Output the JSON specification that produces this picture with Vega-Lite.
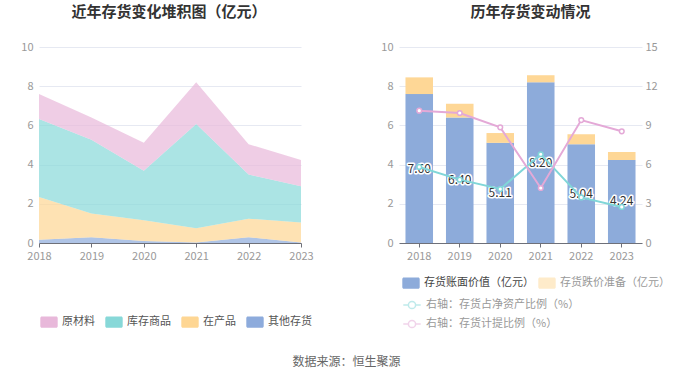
{
  "$schema": "https://vega.github.io/schema/vega-lite/v6.json",
  "background": "white",
  "padding": {"left": 5, "top": 5, "right": 5, "bottom": 5},
  "bounds": "flush",
  "spacing": 98,
  "config": {
    "font": "Noto Sans CJK SC",
    "view": {"stroke": null},
    "axis": {
      "labelColor": "#999999",
      "labelFontSize": 11,
      "gridColor": "#E6E9F2",
      "domainColor": "#6E7079",
      "tickColor": "#6E7079",
      "labelOverlap": false,
      "title": null
    },
    "legend": {"padding": 0, "labelFont": "Noto Sans CJK SC"}
  },
  "title": {
    "text": "数据来源：恒生聚源",
    "orient": "bottom",
    "anchor": "middle",
    "fontSize": 12,
    "fontWeight": "normal",
    "color": "#666666",
    "offset": 26,
    "dx": 9
  },
  "resolve": {
    "scale": {"color": "independent", "y": "independent", "stroke": "independent"},
    "legend": {"color": "independent", "stroke": "independent"}
  },
  "hconcat": [
    {
      "width": 262,
      "height": 196,
      "title": {"text": "近年存货变化堆积图（亿元）", "fontSize": 15, "fontWeight": "bold", "color": "#333333", "offset": 21, "dx": -1},
      "data": {
        "values": [
          {"year": "2018", "series": "其他存货", "value": 0.17},
          {"year": "2018", "series": "在产品", "value": 2.18},
          {"year": "2018", "series": "库存商品", "value": 3.98},
          {"year": "2018", "series": "原材料", "value": 1.27},
          {"year": "2019", "series": "其他存货", "value": 0.29},
          {"year": "2019", "series": "在产品", "value": 1.21},
          {"year": "2019", "series": "库存商品", "value": 3.77},
          {"year": "2019", "series": "原材料", "value": 1.13},
          {"year": "2020", "series": "其他存货", "value": 0.10},
          {"year": "2020", "series": "在产品", "value": 1.06},
          {"year": "2020", "series": "库存商品", "value": 2.53},
          {"year": "2020", "series": "原材料", "value": 1.42},
          {"year": "2021", "series": "其他存货", "value": 0.03},
          {"year": "2021", "series": "在产品", "value": 0.72},
          {"year": "2021", "series": "库存商品", "value": 5.32},
          {"year": "2021", "series": "原材料", "value": 2.13},
          {"year": "2022", "series": "其他存货", "value": 0.29},
          {"year": "2022", "series": "在产品", "value": 0.95},
          {"year": "2022", "series": "库存商品", "value": 2.25},
          {"year": "2022", "series": "原材料", "value": 1.55},
          {"year": "2023", "series": "其他存货", "value": 0.03},
          {"year": "2023", "series": "在产品", "value": 1.02},
          {"year": "2023", "series": "库存商品", "value": 1.84},
          {"year": "2023", "series": "原材料", "value": 1.35}
        ]
      },
      "transform": [
        {"calculate": "indexof(['其他存货','在产品','库存商品','原材料'], datum.series)", "as": "k"}
      ],
      "mark": {"type": "area", "opacity": 0.7},
      "encoding": {
        "x": {
          "field": "year", "type": "ordinal",
          "scale": {"type": "point", "padding": 0},
          "axis": {"labelAngle": 0, "grid": false, "tickSize": 4, "labelPadding": 3}
        },
        "y": {
          "field": "value", "type": "quantitative", "stack": "zero",
          "scale": {"domain": [0, 10]},
          "axis": {"values": [0, 2, 4, 6, 8, 10], "domain": false, "ticks": false, "grid": true, "minExtent": 34, "maxExtent": 34, "labelPadding": 6}
        },
        "color": {
          "field": "series", "type": "nominal",
          "scale": {"domain": ["原材料", "库存商品", "在产品", "其他存货"], "range": ["#E8B8DA", "#87D8D8", "#FED693", "#8DABDC"]},
          "legend": {
            "orient": "none", "legendX": 4, "legendY": 269, "direction": "horizontal", "title": null,
            "symbolType": "M-1.2,-0.95H1.2A0.25,0.25 0 0 1 1.45,-0.7V0.7A0.25,0.25 0 0 1 1.2,0.95H-1.2A0.25,0.25 0 0 1 -1.45,0.7V-0.7A0.25,0.25 0 0 1 -1.2,-0.95Z",
            "symbolSize": 144, "symbolOpacity": 1, "symbolStrokeWidth": 0,
            "labelFontSize": 11, "labelColor": "#555555", "labelOffset": 7, "columnPadding": 10
          }
        },
        "order": {"field": "k", "type": "quantitative"}
      }
    },
    {
      "width": 243,
      "height": 196,
      "title": {"text": "历年存货变动情况", "fontSize": 15, "fontWeight": "bold", "color": "#333333", "offset": 21, "dx": 10},
      "layer": [
        {
          "data": {
            "values": [
              {"year": "2018", "series": "存货账面价值（亿元）", "value": 7.60},
              {"year": "2018", "series": "存货跌价准备（亿元）", "value": 0.85},
              {"year": "2019", "series": "存货账面价值（亿元）", "value": 6.40},
              {"year": "2019", "series": "存货跌价准备（亿元）", "value": 0.70},
              {"year": "2020", "series": "存货账面价值（亿元）", "value": 5.11},
              {"year": "2020", "series": "存货跌价准备（亿元）", "value": 0.50},
              {"year": "2021", "series": "存货账面价值（亿元）", "value": 8.20},
              {"year": "2021", "series": "存货跌价准备（亿元）", "value": 0.36},
              {"year": "2022", "series": "存货账面价值（亿元）", "value": 5.04},
              {"year": "2022", "series": "存货跌价准备（亿元）", "value": 0.51},
              {"year": "2023", "series": "存货账面价值（亿元）", "value": 4.24},
              {"year": "2023", "series": "存货跌价准备（亿元）", "value": 0.40}
            ]
          },
          "layer": [
            {
              "mark": {"type": "bar"},
              "encoding": {
                "x": {
                  "field": "year", "type": "ordinal",
                  "scale": {"paddingInner": 0.32, "paddingOuter": 0.16},
                  "axis": {"labelAngle": 0, "grid": false, "tickSize": 4, "labelPadding": 3}
                },
                "y": {
                  "field": "value", "type": "quantitative", "stack": "zero",
                  "scale": {"domain": [0, 10]},
                  "axis": {"values": [0, 2, 4, 6, 8, 10], "domain": false, "ticks": false, "grid": true, "labelPadding": 6}
                },
                "color": {
                  "field": "series", "type": "nominal",
                  "scale": {"domain": ["存货账面价值（亿元）", "存货跌价准备（亿元）"], "range": ["#8DABDA", "#FED796"]},
                  "legend": {
                    "orient": "none", "legendX": 6, "legendY": 230, "direction": "horizontal", "columns": 2, "title": null,
                    "symbolType": "M-1.2,-0.95H1.2A0.25,0.25 0 0 1 1.45,-0.7V0.7A0.25,0.25 0 0 1 1.2,0.95H-1.2A0.25,0.25 0 0 1 -1.45,0.7V-0.7A0.25,0.25 0 0 1 -1.2,-0.95Z",
                    "symbolSize": 144, "symbolStrokeWidth": 0,
                    "labelFontSize": 11, "labelOffset": 7, "columnPadding": 4,
                    "encode": {
                      "labels": {"update": {"fill": {"signal": "datum.value === '存货账面价值（亿元）' ? '#444444' : '#999999'"}}},
                      "symbols": {"update": {"opacity": {"signal": "datum.value === '存货账面价值（亿元）' ? 1 : 0.5"}}}
                    }
                  }
                },
                "order": {"field": "series", "sort": "ascending"}
              }
            },
            {
              "transform": [
                {"filter": "datum.series === '存货账面价值（亿元）'"},
                {"calculate": "datum.value / 2", "as": "mid"}
              ],
              "mark": {"type": "text", "fontSize": 12, "fill": "#333333", "stroke": "white", "strokeWidth": 3, "strokeJoin": "round"},
              "encoding": {
                "x": {"field": "year", "type": "ordinal"},
                "y": {"field": "mid", "type": "quantitative", "axis": {"values": [0, 2, 4, 6, 8, 10], "domain": false, "ticks": false, "grid": true, "labelPadding": 6}},
                "text": {"field": "value", "type": "quantitative", "format": ".2f"}
              }
            },
            {
              "transform": [
                {"filter": "datum.series === '存货账面价值（亿元）'"},
                {"calculate": "datum.value / 2", "as": "mid"}
              ],
              "mark": {"type": "text", "fontSize": 12, "fill": "#333333"},
              "encoding": {
                "x": {"field": "year", "type": "ordinal"},
                "y": {"field": "mid", "type": "quantitative", "axis": {"values": [0, 2, 4, 6, 8, 10], "domain": false, "ticks": false, "grid": true, "labelPadding": 6}},
                "text": {"field": "value", "type": "quantitative", "format": ".2f"}
              }
            }
          ]
        },
        {
          "data": {
            "values": [
              {"year": "2018", "metric": "右轴：存货占净资产比例（%）", "value": 5.82},
              {"year": "2019", "metric": "右轴：存货占净资产比例（%）", "value": 4.85},
              {"year": "2020", "metric": "右轴：存货占净资产比例（%）", "value": 4.13},
              {"year": "2021", "metric": "右轴：存货占净资产比例（%）", "value": 6.79},
              {"year": "2022", "metric": "右轴：存货占净资产比例（%）", "value": 3.49},
              {"year": "2023", "metric": "右轴：存货占净资产比例（%）", "value": 2.76},
              {"year": "2018", "metric": "右轴：存货计提比例（%）", "value": 10.13},
              {"year": "2019", "metric": "右轴：存货计提比例（%）", "value": 9.95},
              {"year": "2020", "metric": "右轴：存货计提比例（%）", "value": 8.85},
              {"year": "2021", "metric": "右轴：存货计提比例（%）", "value": 4.21},
              {"year": "2022", "metric": "右轴：存货计提比例（%）", "value": 9.41},
              {"year": "2023", "metric": "右轴：存货计提比例（%）", "value": 8.55}
            ]
          },
          "mark": {"type": "line", "strokeWidth": 2, "point": {"filled": false, "fill": "white", "size": 22, "strokeWidth": 1.5}},
          "encoding": {
            "x": {"field": "year", "type": "ordinal"},
            "y": {
              "field": "value", "type": "quantitative",
              "scale": {"domain": [0, 15]},
              "axis": {"orient": "right", "values": [0, 3, 6, 9, 12, 15], "grid": false, "domain": false, "ticks": false, "labelPadding": 3}
            },
            "stroke": {
              "field": "metric", "type": "nominal",
              "scale": {"domain": ["右轴：存货占净资产比例（%）", "右轴：存货计提比例（%）"], "range": ["#80D6D8", "#E4A9D7"]},
              "legend": {
                "orient": "none", "legendX": 6, "legendY": 251, "direction": "vertical", "title": null,
                "symbolType": "M-1.45,0H-0.6M0.6,0H1.45M-0.6,0A0.6,0.6 0 1,0 0.6,0A0.6,0.6 0 1,0 -0.6,0Z",
                "symbolSize": 144, "symbolFillColor": "white", "symbolStrokeWidth": 1.5, "symbolOpacity": 0.5,
                "labelFontSize": 11, "labelColor": "#999999", "labelOffset": 7, "rowPadding": 5
              }
            }
          }
        }
      ],
      "resolve": {"scale": {"y": "independent"}}
    }
  ]
}
